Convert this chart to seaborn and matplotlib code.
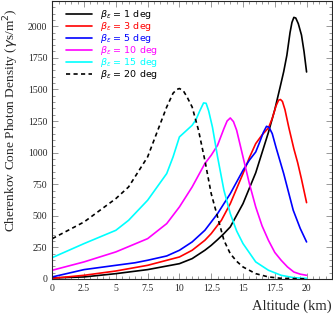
import matplotlib
matplotlib.use("Agg")
import matplotlib.pyplot as plt
import seaborn as sns
import pandas as pd
from matplotlib.ticker import MultipleLocator

sns.set_style("ticks")
plt.rcParams['font.family'] = ['DejaVu Sans']

# ---- data ----
alt_1 = [0, 2.5, 5, 7.5, 10, 11, 12, 12.5, 13, 13.5, 14, 15, 16, 16.5, 17, 17.5, 17.9, 18.2, 18.45, 18.7, 18.85, 19.0, 19.15, 19.35, 19.6, 19.8, 20]
dens_1 = [8, 16, 42, 74, 121, 161, 227, 266, 311, 359, 412, 596, 840, 1000, 1160, 1340, 1510, 1640, 1770, 1950, 2030, 2070, 2065, 2020, 1930, 1800, 1638]

alt_3 = [0, 2.5, 5, 7.5, 10, 11, 12, 12.5, 13.3, 14, 15, 15.5, 16, 16.5, 17, 17.3, 17.6, 17.8, 17.95, 18.1, 18.3, 18.6, 19.0, 19.3, 19.6, 20]
dens_3 = [5, 29, 63, 108, 174, 227, 306, 359, 464, 596, 834, 960, 1071, 1140, 1195, 1270, 1370, 1415, 1420, 1405, 1340, 1200, 1030, 920, 790, 604]

alt_5 = [0, 2.5, 5, 6.5, 7.5, 9, 10, 11, 12, 13, 14, 15, 15.5, 16, 16.3, 16.6, 16.85, 17.05, 17.3, 17.6, 18.2, 18.95, 19.5, 20]
dens_5 = [16, 74, 108, 128, 148, 182, 227, 293, 385, 517, 675, 860, 940, 1005, 1080, 1160, 1208, 1200, 1150, 1040, 834, 544, 400, 293]

alt_10 = [0, 2.5, 5, 7.5, 9, 10, 11, 12, 12.5, 13, 13.5, 13.75, 14, 14.25, 14.5, 15, 15.5, 16, 16.5, 17, 17.5, 18, 18.5, 19, 19.5, 20]
dens_10 = [69, 135, 214, 319, 438, 570, 728, 913, 979, 1058, 1190, 1250, 1274, 1245, 1177, 966, 755, 570, 420, 306, 210, 148, 95, 55, 38, 29]

alt_15 = [0, 2.5, 5, 6, 7.5, 9, 9.5, 10, 10.5, 11, 11.3, 11.6, 11.9, 12.1, 12.3, 12.6, 13, 13.5, 14, 14.5, 15, 16, 17, 18, 19, 20]
dens_15 = [169, 280, 385, 464, 623, 834, 966, 1124, 1170, 1216, 1260, 1330, 1393, 1390, 1330, 1200, 966, 702, 517, 380, 280, 135, 69, 29, 10, 5]

alt_20 = [0, 2.5, 5, 6, 7.5, 8.5, 9, 9.5, 9.8, 10, 10.3, 10.6, 11, 11.5, 12, 12.5, 13, 13.5, 14, 14.5, 15, 16, 17, 18, 19, 20]
dens_20 = [319, 451, 636, 728, 966, 1230, 1361, 1470, 1500, 1507, 1490, 1440, 1361, 1177, 939, 675, 491, 306, 200, 140, 95, 42, 16, 5, 3, 0]

labels = [r"$\beta_\varepsilon$ = 1 deg", r"$\beta_\varepsilon$ = 3 deg", r"$\beta_\varepsilon$ = 5 deg",
          r"$\beta_\varepsilon$ = 10 deg", r"$\beta_\varepsilon$ = 15 deg", r"$\beta_\varepsilon$ = 20 deg"]
colors = ["black", "#ff0000", "#0000ff", "#ff00ff", "#00ffff", "black"]
styles = ["-", "-", "-", "-", "-", (0, (2.5, 2))]
series = [(alt_1, dens_1), (alt_3, dens_3), (alt_5, dens_5), (alt_10, dens_10), (alt_15, dens_15), (alt_20, dens_20)]

fig = plt.figure(figsize=(3.33, 3.17), dpi=100)
ax = fig.add_axes([0.157, 0.12, 0.84, 0.877])

for (x, y), lab, c, ls in zip(series, labels, colors, styles):
    df = pd.DataFrame({"alt": x, "dens": y})
    sns.lineplot(data=df, x="alt", y="dens", ax=ax, color=c, linestyle=ls, linewidth=1.2, label=lab)

ax.set_xlim(0, 22)
ax.set_ylim(0, 2200)
ax.xaxis.set_minor_locator(MultipleLocator(0.5))
ax.yaxis.set_major_locator(MultipleLocator(250))
ax.yaxis.set_minor_locator(MultipleLocator(50))
ax.set_xticks([0, 2.5, 5, 7.5, 10, 12.5, 15, 17.5, 20])
ax.set_xticklabels(["0", "2.5", "5", "7.5", "10", "12.5", "15", "17.5", "20"])
ax.tick_params(which="both", direction="in", top=True, right=True, width=0.6, color="#888888")
ax.tick_params(which="major", length=4, labelsize=7)
ax.tick_params(which="minor", length=2)
for lbl in ax.get_xticklabels() + ax.get_yticklabels():
    lbl.set_family("Liberation Serif")
for s in ax.spines.values():
    s.set_linewidth(0.8)

ax.set_xlabel("Altitude (km)", family="Liberation Serif", fontsize=10.5, loc="right")
ax.set_ylabel(r"Cherenkov Cone Photon Density ($\gamma$s/m$^2$)", family="Liberation Serif", fontsize=9.6, loc="top")
ax.xaxis.set_label_coords(1.0, -0.075)
ax.yaxis.set_label_coords(-0.112, 0.975)

leg = ax.legend(loc="upper left", frameon=False, fontsize=6.8, handlelength=2.7, handletextpad=0.9,
                bbox_to_anchor=(0.03, 0.995), labelspacing=-0.1, borderaxespad=0.2)
for t, c in zip(leg.get_texts(), colors):
    t.set_color(c)

fig.savefig("out.png", dpi=100)
